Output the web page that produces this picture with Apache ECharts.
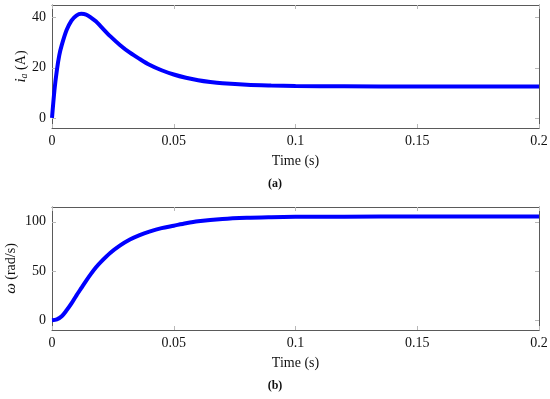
<!DOCTYPE html>
<html><head><meta charset="utf-8">
<script src="https://cdn.jsdelivr.net/npm/echarts@6/dist/echarts.min.js"></script>
<style>html,body{margin:0;padding:0;background:#fff}#c{width:550px;height:399px}</style>
</head><body><div id="c"></div>
<script>
const tA = [0,0.001,0.002,0.003,0.004,0.006,0.008,0.010,0.012,0.014,0.016,0.018,0.020,0.024,0.028,0.032,0.036,0.040,0.045,0.050,0.055,0.060,0.065,0.070,0.080,0.090,0.100,0.120,0.150,0.200];
const iaVals = [0,11,19,25,29,35,38.8,40.8,41.5,41.2,40,38.5,36.5,32.5,29,26,23.5,21.2,19,17.3,16,15,14.3,13.8,13.2,12.9,12.7,12.6,12.5,12.5];
const tB = [0,0.002,0.004,0.006,0.008,0.010,0.012,0.014,0.016,0.018,0.020,0.024,0.028,0.032,0.036,0.040,0.045,0.050,0.055,0.060,0.070,0.080,0.090,0.100,0.120,0.150,0.200];
const omegaVals = [0,0.8,4,10,17,25,32.5,40,47,53.5,59,68.5,76,82,86.5,90,93.5,96,98.5,100.5,102.8,104,104.6,105,105.2,105.3,105.3];
const xTicks = [0,0.05,0.1,0.15,0.2];
const yTicksA = [0,20,40];
const yTicksB = [0,50,100];

const FONT = 'Liberation Serif';
const frame = {show:true, onZero:false, lineStyle:{color:'#5a5a5a', width:1}};
const tick = (vals)=>({show:true, inside:true, length:4, customValues:vals, lineStyle:{color:'#b8b8b8'}});
function xAxes(gi){
  return [
    {gridIndex:gi, type:'value', min:0, max:0.2, position:'bottom', axisLine:frame,
     axisTick:tick(xTicks), axisLabel:{customValues:xTicks, color:'#111', fontFamily:FONT, fontSize:14, margin:6,
       formatter:v=>String(+v.toFixed(3))},
     splitLine:{show:false}, name:'Time (s)', nameLocation:'middle', nameGap:26, nameMoveOverlap:false,
     nameTextStyle:{color:'#111', fontFamily:FONT, fontSize:14}},
    {gridIndex:gi, type:'value', min:0, max:0.2, position:'top', axisLine:frame,
     axisTick:tick(xTicks), axisLabel:{show:false}, splitLine:{show:false}}
  ];
}
function yAxes(gi,min,max,ticks,name,gap){
  return [
    {gridIndex:gi, type:'value', min:min, max:max, position:'left', axisLine:frame,
     axisTick:tick(ticks), axisLabel:{customValues:ticks, color:'#111', fontFamily:FONT, fontSize:14, margin:6},
     splitLine:{show:false}, name:name, nameLocation:'middle', nameGap:gap, nameMoveOverlap:false,
     nameTextStyle:{color:'#111', fontFamily:FONT, fontSize:14,
       rich:{it:{fontStyle:'italic', fontFamily:FONT, fontSize:15, color:'#111'},
             sub:{fontStyle:'italic', fontFamily:FONT, fontSize:10, color:'#111', verticalAlign:'bottom', padding:[6,0,0,0]},
             n:{fontFamily:FONT, fontSize:14, color:'#111'}}}},
    {gridIndex:gi, type:'value', min:min, max:max, position:'right', axisLine:frame,
     axisTick:tick(ticks), axisLabel:{show:false}, splitLine:{show:false}}
  ];
}
const chart = echarts.init(document.getElementById('c'), null, {renderer:'canvas'});
chart.setOption({
  animation:false,
  backgroundColor:'#fff',
  title:[
    {text:'(a)', left:'center', top:173, textStyle:{fontFamily:FONT, fontSize:12, fontWeight:'bold', color:'#111'}},
    {text:'(b)', left:'center', top:375, textStyle:{fontFamily:FONT, fontSize:12, fontWeight:'bold', color:'#111'}}
  ],
  grid:[
    {left:52, right:11, top:5, height:123, outerBoundsMode:'none', containLabel:false},
    {left:52, right:11, top:207, height:123, outerBoundsMode:'none', containLabel:false}
  ],
  xAxis:[...xAxes(0), ...xAxes(1)],
  yAxis:[...yAxes(0,-4,45,yTicksA,'{it|i}{sub|a}{n| (A)}',23), ...yAxes(1,-10,115,yTicksB,'{it|ω}{n| (rad/s)}',33)],
  series:[
    {type:'line', xAxisIndex:0, yAxisIndex:0, data:tA.map((t,i)=>[t,iaVals[i]]), smooth:0.3, showSymbol:false,
     lineStyle:{color:'#0000ff', width:4}},
    {type:'line', xAxisIndex:2, yAxisIndex:2, data:tB.map((t,i)=>[t,omegaVals[i]]), smooth:0.3, showSymbol:false,
     lineStyle:{color:'#0000ff', width:4}}
  ]
});
</script></body></html>
